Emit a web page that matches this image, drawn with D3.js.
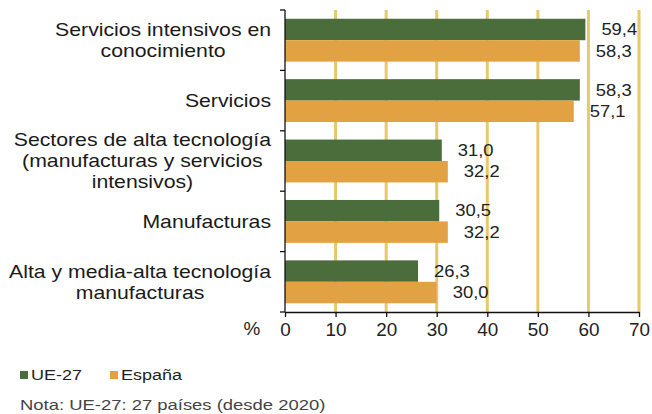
<!DOCTYPE html>
<html>
<head>
<meta charset="utf-8">
<script src="https://cdn.jsdelivr.net/npm/d3@7"></script>
<style>
  html, body { margin: 0; padding: 0; background: #fff; }
  svg { display: block; font-family: "Liberation Sans", Arial, sans-serif; }
</style>
</head>
<body>
<svg id="chart" width="652" height="414"></svg>
<script>
// Categories (each entry is a list of label lines)
const categories = [
  ["Servicios intensivos en", "conocimiento"],
  ["Servicios"],
  ["Sectores de alta tecnología", "(manufacturas y servicios", "intensivos)"],
  ["Manufacturas"],
  ["Alta y media-alta tecnología", "manufacturas"]
];
const seriesNames = ["UE-27", "España"];
const ue27 = [59.4, 58.3, 31.0, 30.5, 26.3];
const espana = [58.3, 57.1, 32.2, 32.2, 30.0];
const xTicks = [0, 10, 20, 30, 40, 50, 60, 70];
const noteText = "Nota: UE-27: 27 países (desde 2020)";

const colors = { "UE-27": "#4b6d3c", "España": "#e2a243" };
const gridColor = "#e9c86a";

const svg = d3.select("#chart");
const plot = { left: 285, right: 639, top: 10, bottom: 312 };

const x = d3.scaleLinear().domain([0, 70]).range([plot.left, plot.right]);
const y = d3.scaleBand().domain(d3.range(categories.length))
  .range([plot.top, plot.bottom]).paddingInner(0.29).paddingOuter(0.145);
const ySub = d3.scaleBand().domain(seriesNames).range([0, y.bandwidth()]);

// text drawn slightly wide: anchored at (px, py) and stretched horizontally
function wideText(parent, px, py, sx, opts) {
  const t = parent.append("text")
    .attr("transform", `translate(${px},${py}) scale(${sx},1)`)
    .attr("dy", "0.36em")
    .attr("text-anchor", opts.anchor || "start")
    .attr("font-size", opts.size)
    .attr("fill", opts.fill || "#222")
    .text(opts.text);
  return t;
}

// vertical gridlines
svg.append("g").selectAll("line").data(xTicks.filter(d => d > 0)).join("line")
  .attr("x1", d => x(d)).attr("x2", d => x(d))
  .attr("y1", plot.top).attr("y2", plot.bottom)
  .attr("stroke", gridColor).attr("stroke-width", 3);

// bars
const rows = categories.map((c, i) => ({ i, values: [
  { s: "UE-27", v: ue27[i] }, { s: "España", v: espana[i] }
]}));

const groups = svg.append("g").selectAll("g").data(rows).join("g")
  .attr("transform", d => `translate(0,${y(d.i)})`);

groups.selectAll("rect").data(d => d.values).join("rect")
  .attr("x", x(0))
  .attr("y", d => ySub(d.s))
  .attr("width", d => x(d.v) - x(0))
  .attr("height", ySub.bandwidth())
  .attr("fill", d => colors[d.s]);

groups.each(function(d) {
  const g = d3.select(this);
  d.values.forEach(v => {
    wideText(g, x(v.v) + 16, ySub(v.s) + ySub.bandwidth() / 2, 1.15,
      { size: 16, text: d3.format(".1f")(v.v).replace(".", ",") });
  });
});

// y axis
const yAxis = svg.append("g").attr("transform", `translate(${plot.left},0)`);
yAxis.append("line").attr("x1", 0).attr("x2", 0)
  .attr("y1", plot.top).attr("y2", plot.bottom).attr("stroke", "#111").attr("stroke-width", 1.3);
const step = y.step();
yAxis.selectAll("line.tk").data(d3.range(categories.length + 1)).join("line")
  .attr("class", "tk")
  .attr("x1", -5).attr("x2", 0)
  .attr("y1", d => plot.top + d * step).attr("y2", d => plot.top + d * step)
  .attr("stroke", "#111").attr("stroke-width", 1.3);

// x axis
const xAxis = svg.append("g").attr("transform", `translate(0,${plot.bottom})`)
  .call(d3.axisBottom(x).tickValues(xTicks).tickSize(5).tickSizeOuter(0).tickPadding(6));
xAxis.select(".domain").attr("stroke", "#111").attr("stroke-width", 1.3);
xAxis.selectAll(".tick line").attr("stroke", "#111").attr("stroke-width", 1.3);
xAxis.selectAll(".tick text").attr("font-size", 18).attr("fill", "#222")
  .attr("font-family", "Liberation Sans, Arial, sans-serif")
  .attr("transform", "scale(1.05,1)");

wideText(svg, 252, 329, 1.05, { size: 18, anchor: "middle", text: "%" });

// category labels: lines centred on each other, block right-aligned to the axis
const labelRight = 271;
const lineH = 21;
const labelStretch = 1.18;
categories.forEach((lines, i) => {
  const cy = y(i) + y.bandwidth() / 2;
  const t = svg.append("text").attr("font-size", 18).attr("fill", "#1a1a1a")
    .attr("text-anchor", "middle")
    .attr("transform", `translate(${labelRight},0) scale(${labelStretch},1)`);
  const spans = lines.map((ln, k) => t.append("tspan")
    .attr("y", cy + (k - (lines.length - 1) / 2) * lineH)
    .attr("dy", "0.36em").text(ln));
  const w = d3.max(spans, s => s.node().getComputedTextLength());
  spans.forEach(s => s.attr("x", -w / 2));
});

// legend
const legend = svg.append("g").attr("transform", "translate(20,375)");
const legX = [0, 90];
seriesNames.forEach((n, k) => {
  legend.append("rect").attr("x", legX[k]).attr("y", -4).attr("width", 8).attr("height", 8)
    .attr("fill", colors[n]);
  wideText(legend, legX[k] + 11, 0, 1.2, { size: 15, text: n });
});

// note
wideText(svg, 20, 405, 1.23, { size: 15, fill: "#444", text: noteText });
</script>
</body>
</html>
